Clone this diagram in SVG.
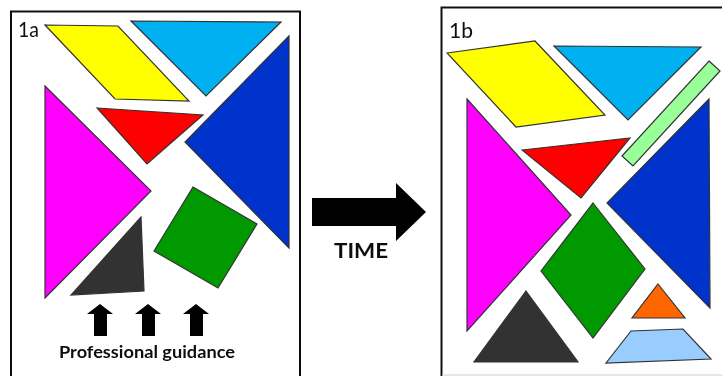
<svg xmlns="http://www.w3.org/2000/svg" width="722" height="376" viewBox="0 0 722 376">
<defs><filter id="soft" x="0" y="0" width="722" height="376" filterUnits="userSpaceOnUse"><feGaussianBlur stdDeviation="0.45"/></filter></defs>
<style>
.frame{fill:none;stroke:#111;stroke-width:2}
.s{stroke:#333;stroke-width:1.2;stroke-linejoin:miter}
.k{fill:#000}
text{font-family:Lato,"Open Sans","Liberation Sans",sans-serif;fill:#111}
.l{font-size:22px}
.b{font-weight:700}
</style>
<rect width="722" height="376" fill="#fff"/>
<g filter="url(#soft)">
<g id="panel-1a">
<path class="frame" d="M11 378V11.500H300V378"/>
<text class="l" x="18" y="37" textLength="21" lengthAdjust="spacingAndGlyphs">1a</text>
</g>
<g id="panel-1b">
<path class="frame" d="M441.500 378V7.500H724"/>
<path d="M442 375H722" stroke="#ccc" fill="none"/>
<text class="l" x="449" y="38" textLength="24" lengthAdjust="spacingAndGlyphs">1b</text>
</g>
<g id="a-yellow"><polygon class="s" fill="#ffff00" points="45,25 118,26 189,101 115,99"/></g>
<g id="a-cyan"><polygon class="s" fill="#00b0f0" points="131,21 281,22 206,96"/></g>
<g id="a-blue"><polygon class="s" fill="#0033cc" points="289,36 185,142 289,248"/></g>
<g id="a-red"><polygon class="s" fill="#ff0000" points="97,108 203,115 147,164"/></g>
<g id="a-magenta"><polygon class="s" fill="#ff00ff" points="45,86 151,191 45,298"/></g>
<g id="a-dark"><polygon class="s" fill="#333333" points="141,217 144,291 71,295"/></g>
<g id="a-green"><polygon class="s" fill="#009900" points="193,187 257,224 218,288 154,251"/></g>
<g id="b-yellow"><polygon class="s" fill="#ffff00" points="447,53 535,41 605,115 516,127"/></g>
<g id="b-cyan"><polygon class="s" fill="#00b0f0" points="554,46 701,47 628,120"/></g>
<g id="b-lightgreen"><polygon class="s" fill="#99ff99" points="709,61 720,71 633,166 622,156"/></g>
<g id="b-blue"><polygon class="s" fill="#0033cc" points="709,99 607,203 710,308"/></g>
<g id="b-red"><polygon class="s" fill="#ff0000" points="522,150 630,138 581,198"/></g>
<g id="b-magenta"><polygon class="s" fill="#ff00ff" points="467,99 571,215 467,331"/></g>
<g id="b-green"><polygon class="s" fill="#009900" points="593,203 645,269 593,338 541,271"/></g>
<g id="b-dark"><polygon class="s" fill="#333333" points="526,291 578,362 474,362"/></g>
<g id="b-orange"><polygon class="s" fill="#ff6600" points="658,284 685,318 632,318"/></g>
<g id="b-lightblue"><polygon class="s" fill="#99ccff" points="631,331 683,329 711,359 606,363"/></g>
<g id="connectors">
<polygon class="k" points="100,304 113,314 107,314 107,336 94,336 94,314 87,314"/>
<polygon class="k" points="148,304 161,314 155,314 155,336 142,336 142,314 135,314"/>
<polygon class="k" points="196,304 209,314 203,314 203,336 190,336 190,314 183,314"/>
<polygon class="k" points="312,198 396,198 396,183 426,212 396,241 396,226 312,226"/>
</g>
<text class="b" x="59" y="358" font-size="17.500" textLength="176" lengthAdjust="spacingAndGlyphs">Professional guidance</text>
<text class="b" x="334" y="258" font-size="21" textLength="54" lengthAdjust="spacingAndGlyphs">TIME</text>
</g>
</svg>
